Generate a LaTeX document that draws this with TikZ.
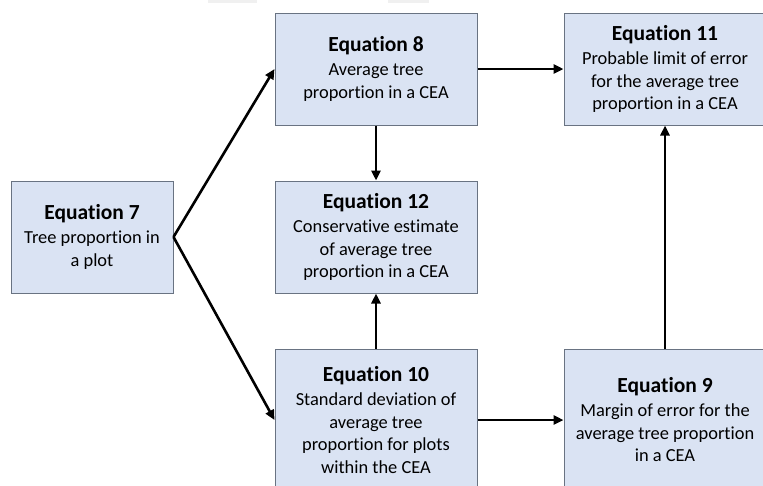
\documentclass[tikz,border=0pt]{standalone}
\usepackage{fontspec}
\setmainfont{Carlito}[Ligatures=NoCommon]
\usetikzlibrary{arrows.meta}
\definecolor{boxfill}{RGB}{218,227,243}
\definecolor{boxline}{RGB}{105,115,130}
\newcommand{\eqtitle}[1]{{\fontsize{21.5}{22.5}\selectfont\bfseries #1}}
\begin{document}
\begin{tikzpicture}[x=1pt, y=-1pt, >={Triangle[length=10pt,width=9pt]},
  eqbox/.style={draw=boxline, line width=1pt, fill=boxfill, align=center,
    minimum width=202pt, minimum height=112pt, inner sep=2pt,
    font=\fontsize{18.4}{22.5}\selectfont},
  flow/.style={->, line width=2.6pt}]
\useasboundingbox (0,0) rectangle (763,485);
\fill[gray!12] (208,0) rectangle (257,3);
\fill[gray!12] (388,0) rectangle (429,3);
\node[eqbox, minimum width=162pt] (eq7) at (92,237) {\eqtitle{Equation 7}\\[1.5pt]Tree proportion in\\a plot};
\node[eqbox] (eq8) at (376,69) {\eqtitle{Equation 8}\\[1.5pt]Average tree\\proportion in a CEA};
\node[eqbox] (eq12) at (376,237) {\eqtitle{Equation 12}\\[1.5pt]Conservative estimate\\of average tree\\proportion in a CEA};
\node[eqbox, minimum height=142pt] (eq10) at (376,420) {\eqtitle{Equation 10}\\[1.5pt]Standard deviation of\\average tree\\proportion for plots\\within the CEA};
\node[eqbox] (eq11) at (665,69) {\eqtitle{Equation 11}\\[1.5pt]Probable limit of error\\for the average tree\\proportion in a CEA};
\node[eqbox, minimum height=142pt] (eq9) at (665,420) {\eqtitle{Equation 9}\\[1.5pt]Margin of error for the\\average tree proportion\\in a CEA};
\draw[flow] (eq7.east)--(eq8.west);
\draw[flow] (eq7.east)--(eq10.west);
\draw[flow] (eq8.east)--(eq11.west);
\draw[flow] (eq8.south)--(eq12.north);
\draw[flow] (eq10.north)--(eq12.south);
\draw[flow] (eq10.east)--(eq9.west);
\draw[flow] (eq9.north)--(eq11.south);
\end{tikzpicture}
\end{document}
